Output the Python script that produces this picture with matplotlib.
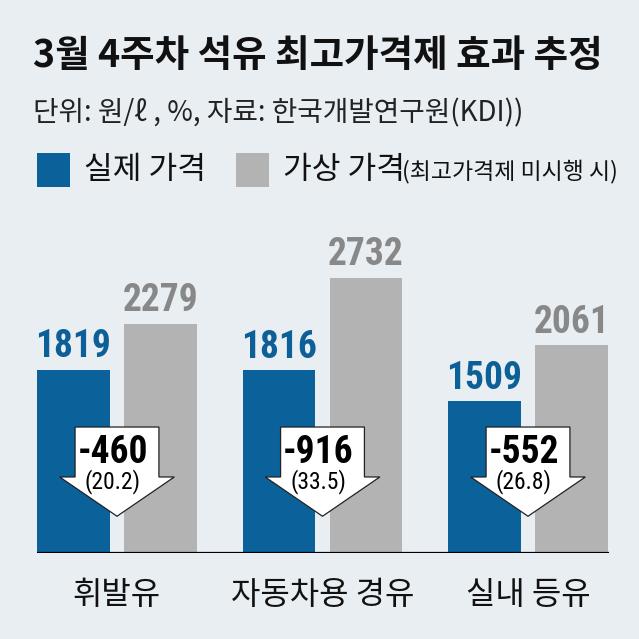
import matplotlib
matplotlib.use("Agg")
import matplotlib.pyplot as plt
from matplotlib import font_manager
from matplotlib.patches import Polygon, Rectangle
import numpy as np

# ---------------- data ----------------
categories = ["휘발유", "자동차용 경유", "실내 등유"]
actual_price = [1819, 1816, 1509]
virtual_price = [2279, 2732, 2061]
price_diff = [-460, -916, -552]
diff_pct = [20.2, 33.5, 26.8]

title = "3월 4주차 석유 최고가격제 효과 추정"
subtitle = "단위: 원/ℓ , %, 자료: 한국개발연구원(KDI))"
legend_actual = "실제 가격"
legend_virtual = "가상 가격"
legend_note = "(최고가격제 미시행 시)"

# ---------------- style ----------------
BG = "#e9eef2"
BLUE = "#0b6199"
GRAY = "#b3b3b3"
BLUE_TXT = "#0d5f98"
GRAY_TXT = "#888888"

names = {f.name for f in font_manager.fontManager.ttflist}
pref = ["Roboto Condensed", "Liberation Sans Narrow", "Archivo Narrow",
        "Barlow Condensed", "Asap Condensed"]
NUM_FONT = next((p for p in pref if p in names), "Liberation Sans")

KR = ["Noto Sans CJK KR", "DejaVu Sans"]
plt.rcParams["font.family"] = KR

W = H = 639
fig = plt.figure(figsize=(W / 100, H / 100), dpi=100, facecolor=BG)


def px(x, y):
    return x / W, 1 - y / H


ax_left, ax_right, ax_base = 37, 608.5, 553
YMAX = 3000
y_scale = 0.1007
ax_h = YMAX * y_scale
ax = fig.add_axes([ax_left / W, (H - ax_base) / H, (ax_right - ax_left) / W, ax_h / H])
ax.patch.set_alpha(0)
for s in ax.spines.values():
    s.set_visible(False)
ax.set_xticks([])
ax.set_yticks([])

x = np.arange(len(categories))
bar_w = 0.355
off = 0.2117
ax.bar(x - off, actual_price, bar_w, color=BLUE, zorder=2)
ax.bar(x + off, virtual_price, bar_w, color=GRAY, zorder=2)
ax.set_xlim(-0.3893, 2.3917)
ax.set_ylim(0, YMAX)
ax.axhline(0, color="black", lw=1.6, zorder=3)

for xi, v in zip(x, actual_price):
    ax.annotate(f"{v}", (xi - off, v), xytext=(0, 9), textcoords="offset points",
                ha="center", va="baseline", fontsize=27, fontweight="bold",
                family=NUM_FONT, color=BLUE_TXT)
for xi, v in zip(x, virtual_price):
    ax.annotate(f"{v}", (xi + off, v), xytext=(0, 9), textcoords="offset points",
                ha="center", va="baseline", fontsize=27, fontweight="bold",
                family=NUM_FONT, color=GRAY_TXT)

A_TOP, A_SH, A_TIP = 1251, 755, 365
SHAFT, HEAD = 0.204, 0.279
for xi, d, p in zip(x, price_diff, diff_pct):
    poly = Polygon([(xi - SHAFT, A_TOP), (xi + SHAFT, A_TOP), (xi + SHAFT, A_SH),
                    (xi + HEAD, A_SH), (xi, A_TIP), (xi - HEAD, A_SH),
                    (xi - SHAFT, A_SH)], closed=True, facecolor="white",
                   edgecolor="#222222", lw=0.9, zorder=4)
    ax.add_patch(poly)
    ax.text(xi - 0.02, 894, f"{d}", ha="center", va="baseline", fontsize=27,
            fontweight="bold", family=NUM_FONT, color="black", zorder=5)
    ax.text(xi - 0.02, 645, f"({p})", ha="center", va="baseline", fontsize=17,
            family=NUM_FONT, color="black", zorder=5)

for xi, c in zip(x, categories):
    ax.text(xi, -420, c, ha="center", va="center", fontsize=23, color="#111111")

fig.text(*px(33, 56), title, ha="left", va="center", fontsize=27,
         fontweight="bold", color="#111111")
fig.text(*px(33, 113), subtitle, ha="left", va="center", fontsize=20,
         color="#222222")

fig.add_artist(Rectangle(px(37, 187), 33 / W, 34 / H, transform=fig.transFigure,
                         facecolor=BLUE, edgecolor="none"))
fig.add_artist(Rectangle(px(236, 187), 33 / W, 34 / H, transform=fig.transFigure,
                         facecolor=GRAY, edgecolor="none"))
fig.text(*px(84, 170), legend_actual, ha="left", va="center", fontsize=22.5, color="#111111")
fig.text(*px(283, 170), legend_virtual, ha="left", va="center", fontsize=22.5, color="#111111")
fig.text(*px(402, 171), legend_note, ha="left", va="center", fontsize=16.5, color="#111111")

fig.savefig("out.png", dpi=100, facecolor=BG)
